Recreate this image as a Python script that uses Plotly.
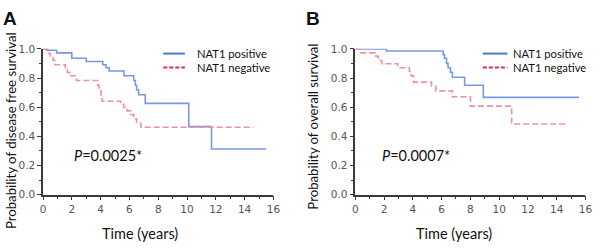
import plotly.graph_objects as go

# ---- data ----
dfs_pos_t = [0, 0.25, 0.95, 2.0, 3.0, 4.15, 4.37, 4.6, 5.62, 6.3, 6.41, 6.5, 6.64, 7.1, 10.12, 11.7, 15.5]
dfs_pos_s = [1.0, 0.99, 0.972, 0.935, 0.913, 0.891, 0.87, 0.848, 0.815, 0.783, 0.75, 0.72, 0.685, 0.626, 0.467, 0.313, 0.313]

dfs_neg_t = [0, 0.3, 0.5, 0.7, 0.84, 1.55, 1.7, 1.86, 2.32, 3.8, 3.9, 4.03, 4.1, 5.4, 5.6, 5.84, 6.1, 6.3, 6.5, 6.8, 14.6]
dfs_neg_s = [1.0, 0.97, 0.946, 0.92, 0.891, 0.86, 0.837, 0.815, 0.783, 0.75, 0.72, 0.68, 0.641, 0.62, 0.6, 0.575, 0.55, 0.52, 0.49, 0.463, 0.463]

os_pos_t = [0, 2.17, 6.11, 6.2, 6.34, 6.45, 6.61, 6.75, 7.6, 8.9, 15.55]
os_pos_s = [1.0, 0.985, 0.96, 0.935, 0.9, 0.87, 0.84, 0.805, 0.75, 0.667, 0.667]

os_neg_t = [0, 0.34, 1.37, 1.6, 1.85, 2.96, 3.76, 3.88, 4.05, 5.3, 5.6, 6.75, 8.0, 10.87, 14.6]
os_neg_s = [1.0, 0.972, 0.95, 0.92, 0.898, 0.87, 0.845, 0.815, 0.772, 0.745, 0.712, 0.672, 0.607, 0.485, 0.485]

series_names = ["NAT1 positive", "NAT1 negative"]
p_values = ["<i>P</i>=0.0025*", "<i>P</i>=0.0007*"]
y_titles = ["Probability of disease free survival", "Probability of overall survival"]
x_title = "Time (years)"
panel_labels = ["A", "B"]

POS_CURVE = "#7898e4"
NEG_CURVE = "#f0909e"
POS_LEG = "#4a78cc"
NEG_LEG = "#e8245c"
AXIS = "#3a3a3a"
TICK = "#555555"

W, H = 600, 249

fig = go.Figure()

def add_curves(t1, s1, t2, s2, xa, ya):
    fig.add_trace(go.Scatter(x=t1, y=s1, mode="lines", line=dict(color=POS_CURVE, width=1.6, shape="hv"),
                             xaxis=xa, yaxis=ya, showlegend=False, hoverinfo="skip"))
    fig.add_trace(go.Scatter(x=t2, y=s2, mode="lines", line=dict(color=NEG_CURVE, width=1.6, shape="hv", dash="6px,3px"),
                             xaxis=xa, yaxis=ya, showlegend=False, hoverinfo="skip"))

add_curves(dfs_pos_t, dfs_pos_s, dfs_neg_t, dfs_neg_s, "x", "y")
add_curves(os_pos_t, os_pos_s, os_neg_t, os_neg_s, "x2", "y2")

# axes geometry (pixels)
ax_left = [40.7, 358.3]
ax_right = [275.0, 592.3]
ax_top, ax_bottom = 45.0, 198.3

def px2x(p):
    return p / W

def px2y(p):
    return 1 - p / H

common_x = dict(range=[0, 16], tickvals=list(range(0, 17, 2)), ticks="outside", ticklen=4, tickwidth=1.3,
                tickcolor=AXIS, showline=True, linecolor=AXIS, linewidth=1.5, showgrid=False, zeroline=False,
                tickfont=dict(family="DejaVu Sans", size=10.5, color=TICK),
                minor=dict(tickvals=list(range(1, 16, 2)), ticks="outside", ticklen=2.5, tickcolor=AXIS, showgrid=False))
common_y = dict(range=[0, 1], tickvals=[0, 0.2, 0.4, 0.6, 0.8, 1.0], ticktext=["0.0", "0.2", "0.4", "0.6", "0.8", "1.0"],
                ticks="outside", ticklen=4, tickwidth=1.3, tickcolor=AXIS, showline=True, linecolor=AXIS, linewidth=1.5,
                showgrid=False, zeroline=False, tickfont=dict(family="DejaVu Sans", size=10.5, color=TICK),
                minor=dict(tickvals=[0.1, 0.3, 0.5, 0.7, 0.9], ticks="outside", ticklen=2.5, tickcolor=AXIS, showgrid=False))

ydom = [px2y(ax_bottom), px2y(ax_top)]
fig.update_layout(
    width=W, height=H, margin=dict(l=0, r=0, t=0, b=0),
    paper_bgcolor="white", plot_bgcolor="white",
    xaxis=dict(domain=[px2x(ax_left[0]), px2x(ax_right[0])], anchor="y", **common_x),
    yaxis=dict(domain=ydom, anchor="x", **common_y),
    xaxis2=dict(domain=[px2x(ax_left[1]), px2x(ax_right[1])], anchor="y2", **common_x),
    yaxis2=dict(domain=ydom, anchor="x2", **common_y),
)

ann = []
shapes = []
title_font = dict(family="Lato", size=14.5, color="#111")
leg_geom = [(163, 185, 196), (488, 513, 518)]
for i in range(2):
    xr = "x" if i == 0 else "x2"
    yr = "y" if i == 0 else "y2"
    # P value
    ann.append(dict(x=2.0 if i == 0 else 1.72, y=0.27, xref=xr, yref=yr, text=p_values[i], showarrow=False,
                    xanchor="left", yanchor="middle", font=dict(family="Lato", size=14.5, color="#111")))
    # panel letter
    ann.append(dict(x=px2x([7.5, 315][i]), y=px2y(13), xref="paper", yref="paper", text="<b>%s</b>" % panel_labels[i],
                    showarrow=False, xanchor="center", yanchor="middle", font=dict(family="Liberation Sans", size=19, color="#111")))
    # y title
    ann.append(dict(x=px2x([7.5, 315][i]), y=px2y([131, 127][i]), xref="paper", yref="paper", text=y_titles[i],
                    textangle=-90, showarrow=False, xanchor="center", yanchor="middle",
                    font=dict(family="Lato", size=13.2, color="#111")))
    # x title
    ann.append(dict(x=px2x([139, 459][i]), y=px2y(239), xref="paper", yref="paper", text=x_title,
                    showarrow=False, xanchor="center", yanchor="middle", font=title_font))
    # legend
    lx0, lx1, tx = leg_geom[i]
    for j, (col, dash) in enumerate([(POS_LEG, "solid"), (NEG_LEG, "dash")]):
        ly = [50, 64.5][j]
        shapes.append(dict(type="line", xref="paper", yref="paper", x0=px2x(lx0), x1=px2x(lx1), y0=px2y(ly), y1=px2y(ly),
                           line=dict(color=col, width=2, dash="4px,2px" if dash == "dash" else "solid")))
        ann.append(dict(x=px2x(tx - 1), y=px2y(ly), xref="paper", yref="paper", text=series_names[j], showarrow=False,
                        xanchor="left", yanchor="middle", font=dict(family="Lato", size=11.2, color="#111")))

fig.update_layout(annotations=ann, shapes=shapes)
fig.write_html("out.html", config={"displayModeBar": False},
               post_script="document.body.style.margin='0';document.body.style.padding='0';")
